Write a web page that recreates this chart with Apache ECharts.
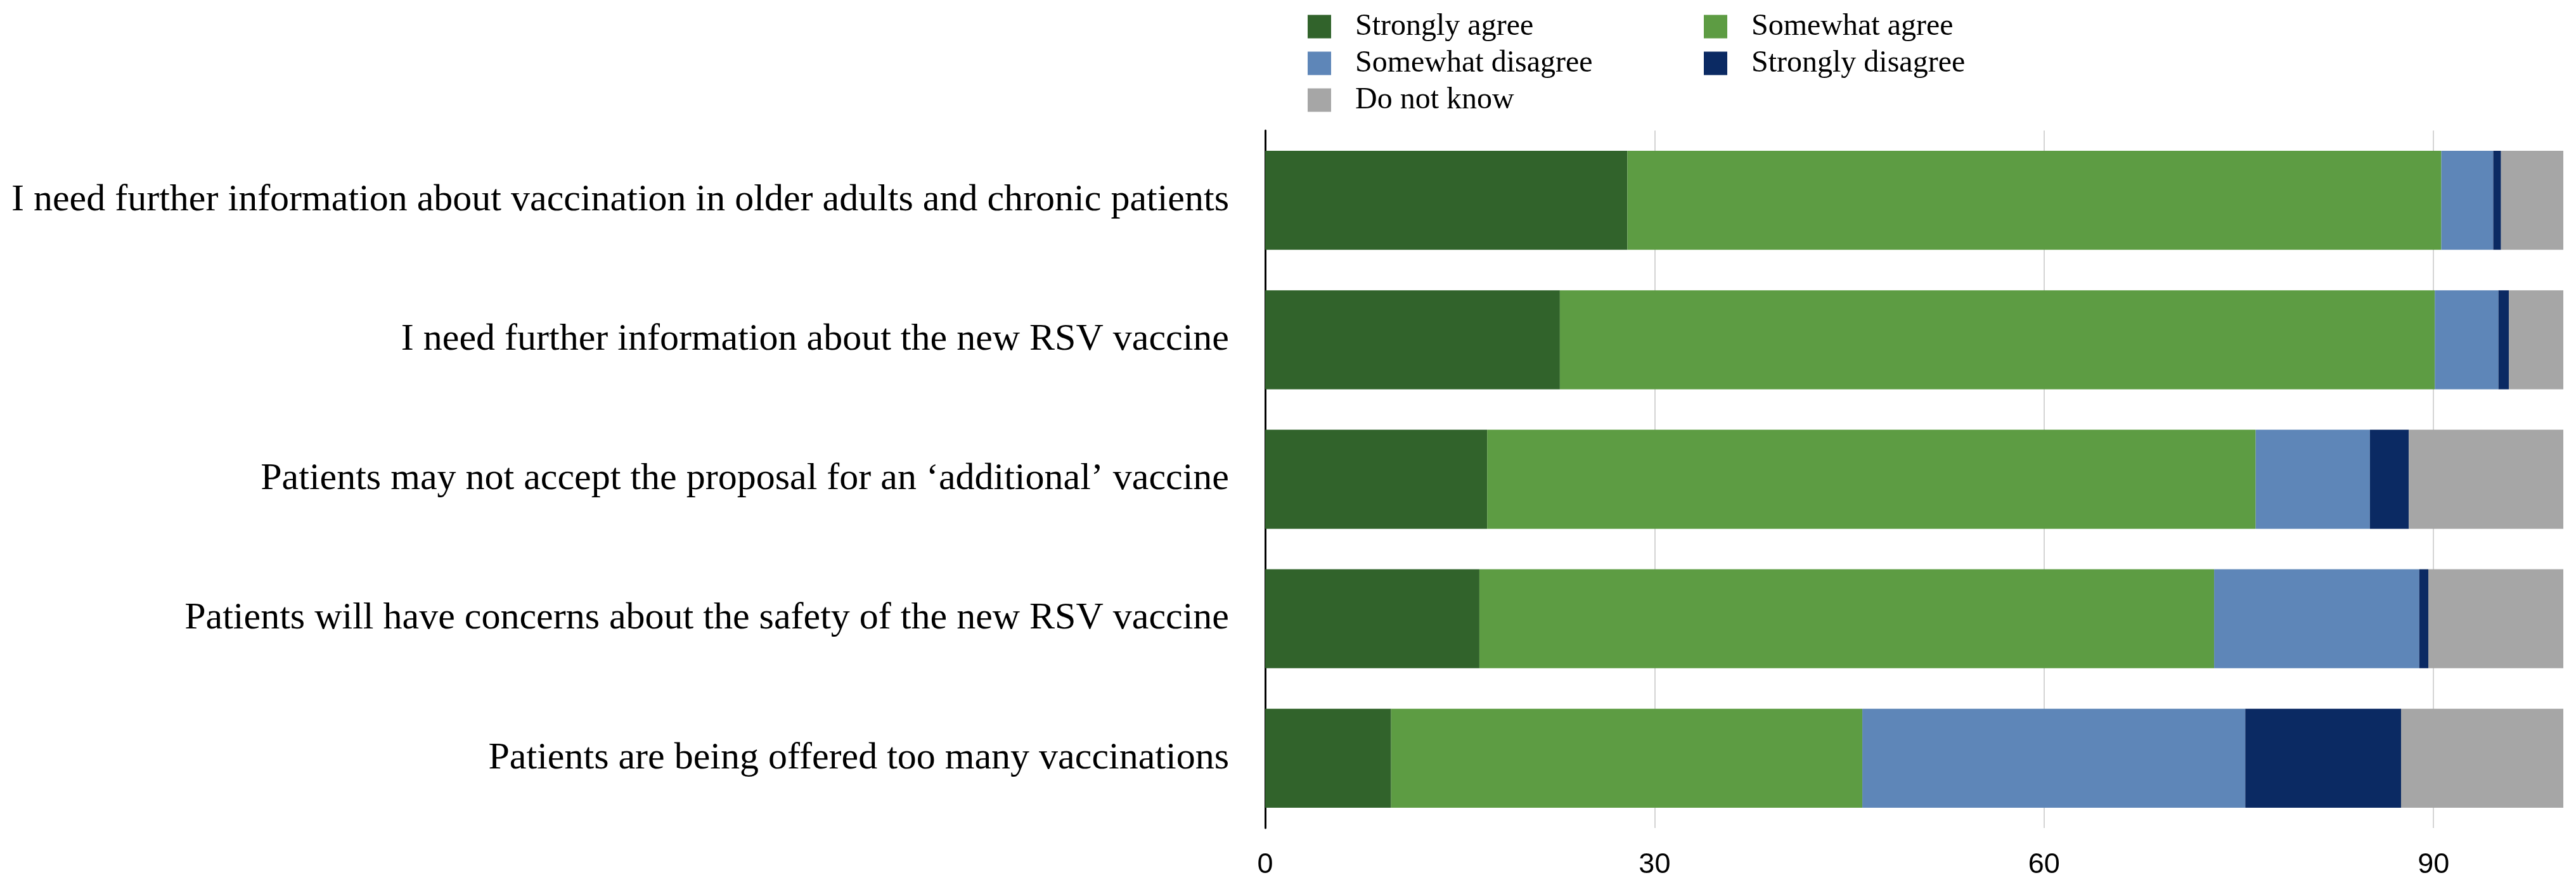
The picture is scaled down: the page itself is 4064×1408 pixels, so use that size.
<!DOCTYPE html>
<html>
<head>
<meta charset="utf-8">
<script src="https://cdn.jsdelivr.net/npm/echarts@6/dist/echarts.min.js"></script>
<style>
html,body{margin:0;padding:0;background:#fff;}
#chart{width:4064px;height:1408px;}
</style>
</head>
<body>
<div id="chart"></div>
<script>
var categories = [
  "I need further information about vaccination in older adults and chronic patients",
  "I need further information about the new RSV vaccine",
  "Patients may not accept the proposal for an \u2018additional\u2019 vaccine",
  "Patients will have concerns about the safety of the new RSV vaccine",
  "Patients are being offered too many vaccinations"
];
var seriesNames = ["Strongly agree", "Somewhat agree", "Somewhat disagree", "Strongly disagree", "Do not know"];
var stronglyAgree    = [27.9, 22.7, 17.1, 16.5, 9.7];
var somewhatAgree    = [62.7, 67.4, 59.2, 56.6, 36.3];
var somewhatDisagree = [4.0, 4.9, 8.8, 15.8, 29.5];
var stronglyDisagree = [0.6, 0.8, 3.0, 0.7, 12.0];
var doNotKnow        = [4.8, 4.2, 11.9, 10.4, 12.5];
var xTicks = [0, 30, 60, 90];
var colors = ["#31632b", "#5d9c43", "#5e86b8", "#0b2a63", "#a6a6a6"];

var values = [stronglyAgree, somewhatAgree, somewhatDisagree, stronglyDisagree, doNotKnow];
var serif = "'Liberation Serif', 'DejaVu Serif', serif";

var chart = echarts.init(document.getElementById('chart'), null, {renderer: 'canvas'});
var legendCommon = {
  orient: 'vertical',
  top: 13,
  itemWidth: 37,
  itemHeight: 37,
  itemGap: 10,
  icon: 'rect',
  textStyle: {fontFamily: serif, fontSize: 48, lineHeight: 48, color: '#000', padding: [0, 0, 0, 33]},
  selectedMode: false
};
var option = {
  backgroundColor: '#ffffff',
  animation: false,
  color: colors,
  legend: [
    Object.assign({}, legendCommon, {left: 2058, data: [seriesNames[0], seriesNames[2], seriesNames[4]]}),
    Object.assign({}, legendCommon, {left: 2683, data: [seriesNames[1], seriesNames[3]]})
  ],
  grid: {left: 1996, right: 20, top: 206, height: 1101, containLabel: false},
  xAxis: {
    type: 'value',
    min: 0,
    max: 100,
    interval: 30,
    axisLine: {show: false},
    axisTick: {show: false},
    splitLine: {show: true, showMinLine: false, showMaxLine: false, lineStyle: {color: '#d4d4d4', width: 2}},
    axisLabel: {
      showMaxLabel: false,
      margin: 36,
      fontFamily: "'Liberation Sans', Arial, sans-serif",
      fontSize: 45,
      color: '#000',
      formatter: function (v) { return xTicks.indexOf(v) >= 0 ? String(v) : ''; }
    }
  },
  yAxis: {
    type: 'category',
    data: categories,
    inverse: true,
    axisLine: {show: true, lineStyle: {color: '#000', width: 3}},
    axisTick: {show: false},
    splitLine: {show: false},
    axisLabel: {margin: 57, fontFamily: serif, fontSize: 60, color: '#000'}
  },
  series: seriesNames.map(function (name, i) {
    return {
      name: name,
      type: 'bar',
      stack: 'total',
      barCategoryGap: '29%',
      data: values[i],
      itemStyle: {color: colors[i]}
    };
  })
};
chart.setOption(option);
</script>
</body>
</html>
